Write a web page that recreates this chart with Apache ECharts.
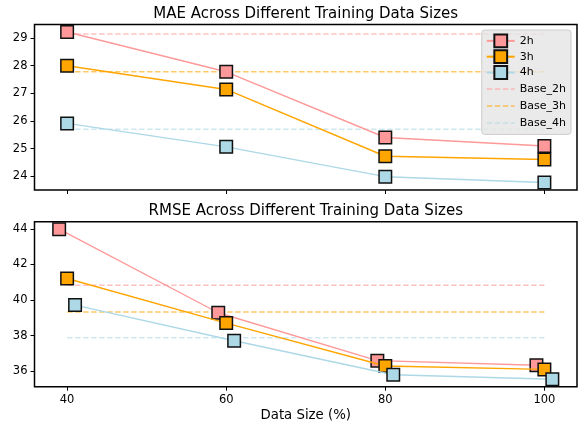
<!DOCTYPE html>
<html><head><meta charset="utf-8">
<script src="https://cdn.jsdelivr.net/npm/echarts@6/dist/echarts.min.js"></script>
<style>html,body{margin:0;padding:0;background:#fff}#chart{width:578px;height:428px}</style>
</head><body><div id="chart"></div>
<script>
// Error metrics versus share of training data used
const horizons = ['2h', '3h', '4h'];
const baseNames = ['Base_2h', 'Base_3h', 'Base_4h'];
const dataSizes = [40, 60, 80, 100];
const xTicks = [40, 60, 80, 100];
const maeTicks = [24, 25, 26, 27, 28, 29];
const rmseTicks = [36, 38, 40, 42, 44];

const mae2h = [29.22, 27.78, 25.40, 25.09];
const mae3h = [28.00, 27.14, 24.72, 24.60];
const mae4h = [25.91, 25.06, 23.98, 23.77];
const maeBase = [29.15, 27.78, 25.70];

const rmse2h = [43.98, 39.29, 36.60, 36.34];
const rmse3h = [41.21, 38.71, 36.30, 36.11];
const rmse4h = [39.72, 37.72, 35.81, 35.56];
const rmseBase = [40.84, 39.33, 37.89];
// horizontal shift of the RMSE points per horizon, in % units
const rmseOffsets = [-1, 0, 1];

const colors = ['#FF9999', '#FFA500', '#ADD8E6'];
const baseColors = ['rgba(255,153,153,0.6)', 'rgba(255,165,0,0.6)', 'rgba(173,216,230,0.6)'];
const FONT = 'DejaVu Sans';

function padded(vals, m) {
  const lo = Math.min(...vals), hi = Math.max(...vals);
  const d = (hi - lo) * m;
  return [lo - d, hi + d];
}

const maeSeries = [mae2h, mae3h, mae4h];
const rmseSeries = [rmse2h, rmse3h, rmse4h];
const allX = [];
rmseOffsets.forEach(o => dataSizes.forEach(x => allX.push(x + o)));
const xr = padded(allX, 0.05);
const maeR = padded([].concat(...maeSeries), 0.05);
const rmseR = padded([].concat(...rmseSeries), 0.05);

function xAxis(gridIndex, showLabels) {
  return {
    type: 'value', gridIndex, min: xr[0], max: xr[1],
    axisLine: { show: false },
    splitLine: { show: false },
    axisTick: { show: true, length: 4, customValues: xTicks, lineStyle: { color: '#000', width: 1 } },
    axisLabel: { show: showLabels, customValues: xTicks, margin: 7, color: '#000', fontFamily: FONT, fontSize: 11.5 },
    name: showLabels ? 'Data Size (%)' : '',
    nameLocation: 'middle', nameGap: 22,
    nameTextStyle: { color: '#000', fontFamily: FONT, fontSize: 13.3 }
  };
}
function yAxis(gridIndex, r, ticks) {
  return {
    type: 'value', gridIndex, min: r[0], max: r[1],
    axisLine: { show: false },
    splitLine: { show: false },
    axisTick: { show: true, length: 4, customValues: ticks, lineStyle: { color: '#000', width: 1 } },
    axisLabel: { customValues: ticks, margin: 7, color: '#000', fontFamily: FONT, fontSize: 11.5 }
  };
}

const series = [];
function addPanel(idx, values, bases, offsets) {
  // dashed baselines first so the markers sit on top
  bases.forEach((b, i) => {
    series.push({
      name: baseNames[i], type: 'line', xAxisIndex: idx, yAxisIndex: idx,
      data: [[dataSizes[0], b], [dataSizes[dataSizes.length - 1], b]],
      symbol: 'none', silent: true,
      lineStyle: { color: baseColors[i], width: 1.5, type: [5.5, 2.5] },
      itemStyle: { color: baseColors[i] },
      z: 1
    });
  });
  values.forEach((vals, i) => {
    series.push({
      name: horizons[i], type: 'line', xAxisIndex: idx, yAxisIndex: idx,
      data: vals.map((v, j) => [dataSizes[j] + offsets[i], v]),
      symbol: 'rect', symbolSize: 12.5, showSymbol: true,
      lineStyle: { color: colors[i], width: 1.4 },
      itemStyle: { color: colors[i], borderColor: '#111', borderWidth: 1.5 },
      z: 2 + i
    });
  });
}
addPanel(0, maeSeries, maeBase, [0, 0, 0]);
addPanel(1, rmseSeries, rmseBase, rmseOffsets);

// dashed-line legend glyph (tiny corner specks keep the box at full item size)
const dashIcon = 'path://M0,0h0.01v0.01h-0.01z M27.99,15.99h0.01v0.01h-0.01z ' +
  'M0,7.25h5.5v1.5h-5.5z M8,7.25h5.5v1.5h-5.5z M16,7.25h5.5v1.5h-5.5z M24,7.25h4v1.5h-4z';

const legendData = horizons.map(n => ({ name: n })).concat(
  baseNames.map((n, i) => ({ name: n, icon: dashIcon, itemStyle: { color: baseColors[i], borderWidth: 0 } }))
);

const chart = echarts.init(document.getElementById('chart'), null, { renderer: 'canvas' });
chart.setOption({
  animation: false,
  backgroundColor: '#fff',
  textStyle: { fontFamily: FONT },
  title: [
    { text: 'MAE Across Different Training Data Sizes', left: 305.75, top: 7, padding: 0, textAlign: 'center',
      textStyle: { fontFamily: FONT, fontSize: 15, fontWeight: 'normal', color: '#000' } },
    { text: 'RMSE Across Different Training Data Sizes', left: 305.75, top: 204, padding: 0, textAlign: 'center',
      textStyle: { fontFamily: FONT, fontSize: 15, fontWeight: 'normal', color: '#000' } }
  ],
  grid: [
    { left: 34.5, top: 24.5, width: 542.5, height: 165.5, show: true, borderColor: '#000', borderWidth: 1.5, backgroundColor: 'transparent' },
    { left: 34.5, top: 221.7, width: 542.5, height: 165, show: true, borderColor: '#000', borderWidth: 1.5, backgroundColor: 'transparent' }
  ],
  xAxis: [xAxis(0, false), xAxis(1, true)],
  yAxis: [yAxis(0, maeR, maeTicks), yAxis(1, rmseR, rmseTicks)],
  legend: {
    data: legendData,
    orient: 'vertical', right: 7, top: 30,
    itemWidth: 28, itemHeight: 16, itemGap: 1,
    padding: [3.5, 5, 3.5, 4],
    backgroundColor: 'rgba(229,229,229,0.8)',
    borderColor: '#cccccc', borderWidth: 1, borderRadius: 3,
    textStyle: { fontFamily: FONT, fontSize: 11, color: '#000' },
    selectedMode: false
  },
  series
});
</script>
</body></html>
